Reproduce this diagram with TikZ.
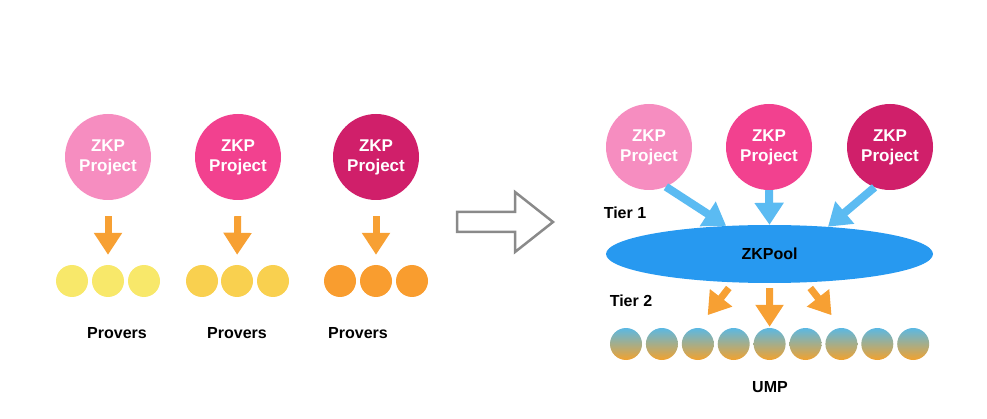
\documentclass[tikz,border=0pt]{standalone}
\usepackage{fontspec}
\setmainfont{Liberation Sans}
\usetikzlibrary{arrows.meta,shapes.geometric}

\definecolor{pinkA}{HTML}{F68DC0}
\definecolor{pinkB}{HTML}{F2418F}
\definecolor{pinkC}{HTML}{D01F6A}
\definecolor{yelA}{HTML}{F8E86A}
\definecolor{yelB}{HTML}{F9D04F}
\definecolor{yelC}{HTML}{F99D2F}
\definecolor{arrorange}{HTML}{F7A033}
\definecolor{arrblue}{HTML}{5BBBF2}
\definecolor{poolblue}{HTML}{2799F0}
\definecolor{umptop}{HTML}{5BB8E3}
\definecolor{umpbot}{HTML}{F2A22E}
\definecolor{bigarrow}{HTML}{8A8A8A}

\begin{document}
\begin{tikzpicture}[x=1pt,y=-1pt,
	proj/.style={circle,minimum size=86pt,inner sep=0pt,text=white,align=center,font=\fontsize{17}{20}\selectfont\bfseries},
	prover/.style={circle,minimum size=32pt,inner sep=0pt},
	ump/.style={prover,top color=umptop,bottom color=umpbot},
	lbl/.style={font=\fontsize{16}{19}\selectfont\bfseries},
	oarrow/.style={draw=arrorange,line width=7pt,-{Triangle[width=27pt,length=22pt]}},
	barrow/.style={draw=arrblue,line width=8pt,-{Triangle[width=28pt,length=22pt]}}]

	\useasboundingbox (0,0) rectangle (987,419);

	\node[proj,fill=pinkA] (p1) at (108,157) {ZKP\\Project};
	\node[proj,fill=pinkB] (p2) at (238,157) {ZKP\\Project};
	\node[proj,fill=pinkC] (p3) at (376,157) {ZKP\\Project};

	\foreach \i/\x in {1/72,2/108,3/144}
		\node[prover,fill=yelA] (v1\i) at (\x,281) {};
	\foreach \i/\x in {1/202,2/237,3/273}
		\node[prover,fill=yelB] (v2\i) at (\x,281) {};
	\foreach \i/\x in {1/340,2/376,3/412}
		\node[prover,fill=yelC] (v3\i) at (\x,281) {};

	\draw[oarrow,shorten <=16pt,shorten >=10pt] (p1.south) -- (v12.north);
	\draw[oarrow,shorten <=16pt,shorten >=10pt] (p2.south) -- (v22.north);
	\draw[oarrow,shorten <=16pt,shorten >=10pt] (p3.south) -- (v32.north);

	\node[lbl] (prov1) at (117,333) {Provers};
	\node[lbl] (prov2) at (237,333) {Provers};
	\node[lbl] (prov3) at (358,333) {Provers};

	\draw[bigarrow,line width=2.5pt,line join=miter]
		(457,212) -- (515,212) -- (515,192) -- (553,222) -- (515,252) -- (515,232) -- (457,232) -- cycle;

	\node[proj,fill=pinkA] (p4) at (649,147) {ZKP\\Project};
	\node[proj,fill=pinkB] (p5) at (769,147) {ZKP\\Project};
	\node[proj,fill=pinkC] (p6) at (890,147) {ZKP\\Project};

	\node[ellipse,fill=poolblue,minimum width=327pt,minimum height=58pt,inner sep=0pt,lbl] (pool) at (769.5,254) {ZKPool};

	\draw[barrow] (p4.-67) -- (pool.147);
	\draw[barrow] (p5.south) -- (pool.north);
	\draw[barrow] (p6.-111) -- (pool.25);

	\node[lbl] (tier1) at (625,213) {Tier 1};
	\node[lbl] (tier2) at (631,301) {Tier 2};

	\foreach \i in {1,...,9}
		\node[ump] (u\i) at ({626+35.9*(\i-1)},344) {};

	\draw[oarrow,shorten <=7pt,shorten >=16pt] (pool.218) -- (u3.north);
	\draw[oarrow,shorten <=5pt,shorten >=1pt] (pool.south) -- (u5.north);
	\draw[oarrow,shorten <=7pt,shorten >=16pt] (pool.-38) -- (u7.north);

	\node[lbl] (ump) at (770,387) {UMP};

\end{tikzpicture}
\end{document}
